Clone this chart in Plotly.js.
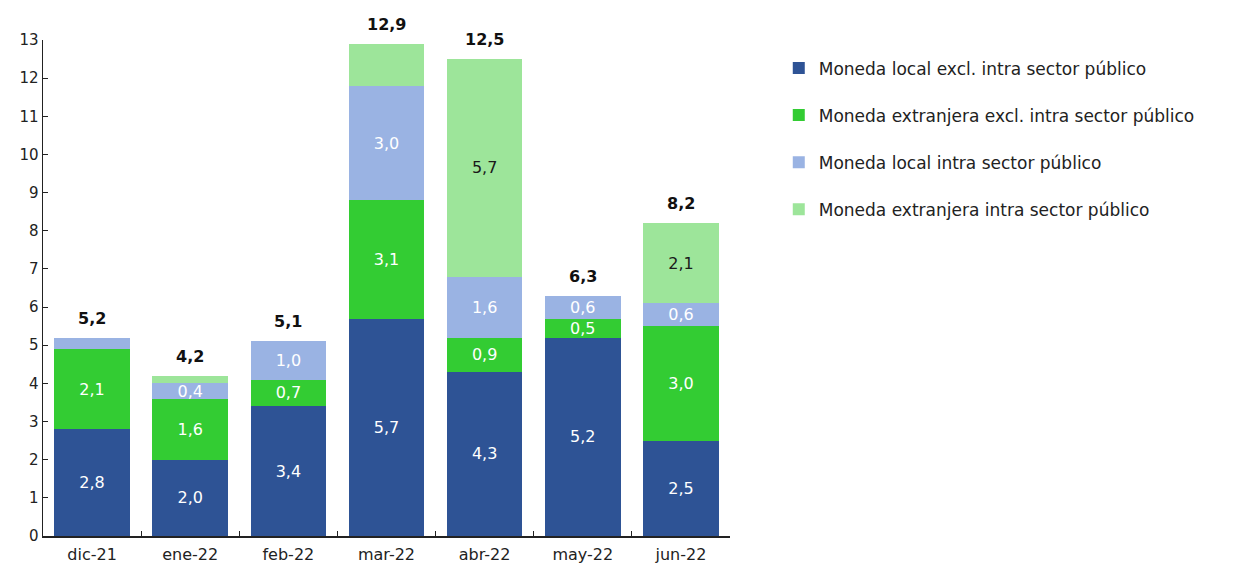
<!DOCTYPE html>
<html>
<head>
<meta charset="utf-8">
<script src="https://cdn.plot.ly/plotly-3.0.1.min.js"></script>
<style>html,body{margin:0;padding:0;background:#fff;}#chart{width:1246px;height:574px;}</style>
</head>
<body>
<div id="chart"></div>
<script>
const categories = ["dic-21", "ene-22", "feb-22", "mar-22", "abr-22", "may-22", "jun-22"];
const seriesNames = [
  "Moneda local excl. intra sector público",
  "Moneda extranjera excl. intra sector público",
  "Moneda local intra sector público",
  "Moneda extranjera intra sector público"
];
const localExcl = [2.8, 2.0, 3.4, 5.7, 4.3, 5.2, 2.5];
const extranjeraExcl = [2.1, 1.6, 0.7, 3.1, 0.9, 0.5, 3.0];
const localIntra = [0.3, 0.4, 1.0, 3.0, 1.6, 0.6, 0.6];
const extranjeraIntra = [0.0, 0.2, 0.0, 1.1, 5.7, 0.0, 2.1];
const totals = [5.2, 4.2, 5.1, 12.9, 12.5, 6.3, 8.2];

const colors = ["#2E5395", "#33CC33", "#9AB3E3", "#9DE59A"];
const labelColors = ["#ffffff", "#ffffff", "#ffffff", "#1a1a1a"];
const series = [localExcl, extranjeraExcl, localIntra, extranjeraIntra];
const labeled = [
  [true, true, true, true, true, true, true],
  [true, true, true, true, true, true, true],
  [false, true, true, true, true, true, true],
  [false, false, false, false, true, false, true]
];
const fmt = v => v.toFixed(1).replace('.', ',');
const font = "DejaVu Sans, Open Sans, sans-serif";

const traces = series.map((vals, i) => ({
  type: 'bar',
  name: seriesNames[i],
  x: categories,
  y: vals,
  marker: {color: colors[i], line: {width: 0}},
  text: vals.map((v, j) => labeled[i][j] ? fmt(v) : ''),
  textposition: 'inside',
  insidetextanchor: 'middle',
  textangle: 0,
  constraintext: 'none',
  textfont: {family: font, size: 16, color: labelColors[i]},
  hoverinfo: 'x+y+name',
  legendgroup: 'g' + i
}));

const annotations = categories.map((c, j) => ({
  x: c, y: totals[j], xref: 'x', yref: 'y',
  text: '<b>' + fmt(totals[j]) + '</b>',
  showarrow: false, yanchor: 'bottom', yshift: 8,
  font: {family: font, size: 16, color: '#111'}
}));

const layout = {
  width: 1246, height: 574,
  margin: {l: 43, r: 516, t: 40, b: 38},
  barmode: 'stack',
  bargap: 0.23,
  paper_bgcolor: '#fff', plot_bgcolor: '#fff',
  font: {family: font, size: 15, color: '#222'},
  showlegend: true,
  legend: {
    x: 1.071, y: 0.979, xanchor: 'left', yanchor: 'top',
    font: {family: font, size: 17, color: '#222'},
    traceorder: 'grouped', tracegroupgap: 22,
    itemwidth: 30
  },
  xaxis: {
    type: 'category',
    showline: true, linecolor: '#222', linewidth: 1.5,
    ticks: 'inside', ticklen: 5, tickcolor: '#222', tickson: 'boundaries',
    tickfont: {family: font, size: 16, color: '#222'},
    ticklabelstandoff: 3,
    showgrid: false, zeroline: false
  },
  yaxis: {
    range: [0, 13], dtick: 1, tick0: 0,
    showline: true, linecolor: '#222', linewidth: 1.5,
    ticks: 'inside', ticklen: 5, tickcolor: '#222',
    tickfont: {family: font, size: 15, color: '#222'},
    showgrid: false, zeroline: false
  },
  annotations: annotations
};

Plotly.newPlot('chart', traces, layout, {displayModeBar: false, staticPlot: true});
</script>
</body>
</html>
